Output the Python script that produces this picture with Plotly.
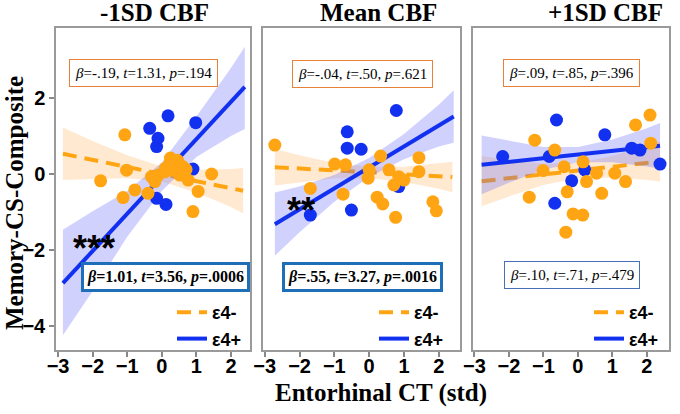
import plotly.graph_objects as go

W, H = 680, 414

panel_titles = ['-1SD CBF', 'Mean CBF', '+1SD CBF']
x_ticks = [-3, -2, -1, 0, 1, 2]
y_ticks = [-4, -2, 0, 2]

# e4+ (blue) points per panel
pos_x = [
    [0.18, -0.35, 0.98, -0.11, -0.15, 0.90, -0.15, 0.12, -1.12],
    [0.78, -0.63, -0.63, -0.23, 0.85, -0.51, -1.69],
    [-0.62, 0.78, -2.18, -0.83, 1.56, 1.80, 2.38, 0.20, -0.18, -0.67],
]
pos_y = [
    [1.53, 1.20, 1.35, 0.94, 0.72, 0.13, -0.64, -0.80, -2.88],
    [1.67, 1.11, 0.68, 0.65, -0.33, -0.95, -1.08],
    [1.42, 1.03, 0.46, 0.46, 0.68, 0.63, 0.26, 0.11, -0.18, -0.77],
]

# e4- (orange) points per panel
neg_x = [
    [-1.07, -1.02, -1.77, -0.78, -1.12, -0.40, -0.30, -0.20, 0.23, 0.47, 0.38, 0.09,
     0.62, 0.52, 0.76, 1.44, 1.05, 0.90, 0.25, 0.45, 0.60, 0.10, 0.30, 0.70, 0.35, -0.10],
    [-2.71, -0.99, -0.68, 0.33, 1.43, 0.00, -0.03, 0.57, 0.85, 1.00, 0.71, 1.43,
     -1.69, -0.75, 0.23, 0.39, 0.76, 1.83, 1.93],
    [2.09, 1.67, 2.11, -1.25, -0.67, 0.15, -1.01, -0.40, 0.54, 1.07, 1.38, 0.25,
     -0.31, 0.69, -1.41, -0.14, 0.14, -0.35],
]
neg_y = [
    [1.03, 0.10, -0.18, -0.42, -0.62, -0.51, -0.07, -0.20, 0.28, 0.32, 0.15, 0.06,
     0.06, -0.03, -0.16, 0.00, -0.46, -0.99, 0.42, 0.36, 0.20, 0.15, 0.10, 0.12, 0.28, -0.03],
    [0.76, 0.26, 0.24, 0.47, 0.43, 0.11, -0.11, 0.11, -0.07, -0.16, -0.29, 0.06,
     -0.38, -0.53, -0.61, -0.79, -1.14, -0.73, -0.97],
    [1.55, 1.29, 0.81, 0.89, 0.63, 0.32, 0.09, 0.19, 0.02, 0.02, -0.20, -0.20,
     -0.47, -0.51, -0.61, -1.05, -1.08, -1.53],
]

# fitted lines (end points) and confidence bands
pos_fit_x = [[-2.86, 2.40], [-2.71, 2.43], [-2.79, 2.38]]
pos_fit_y = [[-2.87, 2.29], [-1.32, 1.51], [0.24, 0.74]]
neg_fit_x = [[-2.86, 2.35], [-2.71, 2.39], [-2.79, 2.38]]
neg_fit_y = [[0.53, -0.44], [0.18, -0.08], [-0.19, 0.33]]

pos_band_x = [
    [-2.86, -2, -1, 0, 1, 2, 2.40],
    [-2.71, -2, -1, 0, 1, 2, 2.43],
    [-2.79, -2, -1, 0, 1, 2, 2.38],
]
pos_band_hi = [
    [-1.47, -0.98, -0.45, 0.30, 1.51, 2.79, 3.35],
    [-0.49, -0.33, -0.03, 0.42, 1.05, 1.82, 2.20],
    [1.01, 0.87, 0.71, 0.71, 0.91, 1.20, 1.34],
]
pos_band_lo = [
    [-4.24, -3.08, -1.65, -0.45, 0.45, 1.00, 1.18],
    [-2.15, -1.53, -0.73, -0.08, 0.39, 0.72, 0.82],
    [-0.53, -0.23, 0.11, 0.31, 0.31, 0.20, 0.14],
]
neg_band_x = [
    [-2.86, -2, -1, 0, 1, 2, 2.35],
    [-2.71, -2, -1, 0, 1, 2, 2.39],
    [-2.79, -2, -1, 0, 1, 2, 2.38],
]
neg_band_hi = [
    [1.22, 0.87, 0.49, 0.20, 0.11, 0.13, 0.16],
    [0.66, 0.49, 0.29, 0.19, 0.19, 0.27, 0.32],
    [0.47, 0.37, 0.27, 0.29, 0.47, 0.74, 0.86],
]
neg_band_lo = [
    [-0.16, -0.13, -0.11, -0.20, -0.49, -0.87, -1.04],
    [-0.30, -0.21, -0.11, -0.11, -0.21, -0.39, -0.48],
    [-0.85, -0.59, -0.29, -0.11, -0.09, -0.16, -0.20],
]

neg_stats = ['<i>β</i>=-.19, <i>t</i>=1.31, <i>p</i>=.194',
             '<i>β</i>=-.04, <i>t</i>=.50, <i>p</i>=.621',
             '<i>β</i>=.09, <i>t</i>=.85, <i>p</i>=.396']
pos_stats = ['<b><i>β</i>=1.01, <i>t</i>=3.56, <i>p</i>=.0006</b>',
             '<b><i>β</i>=.55, <i>t</i>=3.27, <i>p</i>=.0016</b>',
             '<i>β</i>=.10, <i>t</i>=.71, <i>p</i>=.479']
stars = ['***', '**', '']
star_x = [-1.95, -1.97]
star_y = [-1.95, -0.96]

ORANGE = '#FFA514'
BLUE = '#1230F0'
SANS = 'Liberation Sans, Arial, sans-serif'
SERIF = 'Liberation Serif, Times New Roman, serif'


def px(x):
    return x / W


def py(y):
    return 1 - y / H


x_domains = [[px(56), px(250)], [px(263), px(460)], [px(473), px(669)]]
x_ranges = [[-3.06, 2.55], [-3.05, 2.61], [-3.04, 2.64]]
y_range = [-4.63, 3.84]
y_domain = [py(350), py(28)]

title_cx = [154, 378, 605]
neg_box = [(143, 73), (362, 74), (571, 73)]
pos_box = [(165, 277), (362, 277), (572, 275)]
legend_x = [172, 374, 589]

fig = go.Figure()

for i in range(3):
    xa = 'x' if i == 0 else f'x{i + 1}'
    ya = 'y' if i == 0 else f'y{i + 1}'
    lg = 'legend' if i == 0 else f'legend{i + 1}'

    # bands
    fig.add_trace(go.Scatter(
        x=neg_band_x[i] + neg_band_x[i][::-1], y=neg_band_hi[i] + neg_band_lo[i][::-1],
        fill='toself', fillcolor='rgba(255,170,70,0.25)', line=dict(width=0),
        mode='lines', hoverinfo='skip', showlegend=False, xaxis=xa, yaxis=ya))
    fig.add_trace(go.Scatter(
        x=neg_fit_x[i], y=neg_fit_y[i], mode='lines', name='ε4-',
        line=dict(color=ORANGE, width=4, dash='14px,8px'),
        legend=lg, xaxis=xa, yaxis=ya))
    fig.add_trace(go.Scatter(
        x=pos_band_x[i] + pos_band_x[i][::-1], y=pos_band_hi[i] + pos_band_lo[i][::-1],
        fill='toself', fillcolor='rgba(90,90,250,0.28)', line=dict(width=0),
        mode='lines', hoverinfo='skip', showlegend=False, xaxis=xa, yaxis=ya))
    fig.add_trace(go.Scatter(
        x=pos_fit_x[i], y=pos_fit_y[i], mode='lines', name='ε4+',
        line=dict(color=BLUE, width=4),
        legend=lg, xaxis=xa, yaxis=ya))

    # points
    fig.add_trace(go.Scatter(
        x=pos_x[i], y=pos_y[i], mode='markers', marker=dict(color=BLUE, size=13),
        showlegend=False, xaxis=xa, yaxis=ya))
    fig.add_trace(go.Scatter(
        x=neg_x[i], y=neg_y[i], mode='markers', marker=dict(color=ORANGE, size=13),
        showlegend=False, xaxis=xa, yaxis=ya))

    axis_x = dict(domain=x_domains[i], range=x_ranges[i], tickvals=x_ticks,
                  ticks='outside', ticklen=5, tickwidth=1.5, tickcolor='#888',
                  ticklabelstandoff=-8,
                  showline=True, mirror=True, linecolor='#9a9a9a', linewidth=1.5,
                  showgrid=False, zeroline=False, automargin=False,
                  tickfont=dict(family=SANS, size=20, color='black', weight='bold'),
                  anchor=ya)
    axis_y = dict(domain=y_domain, range=y_range, tickvals=y_ticks,
                  showline=True, mirror=True, linecolor='#9a9a9a', linewidth=1.5,
                  showgrid=False, zeroline=False, anchor=xa, automargin=False,
                  tickfont=dict(family=SANS, size=20, color='black', weight='bold'))
    if i == 0:
        axis_y.update(ticks='outside', ticklen=5, tickwidth=1.5, tickcolor='#888')
    else:
        axis_y.update(showticklabels=False, ticks='')
    fig.update_layout({('xaxis' if i == 0 else f'xaxis{i + 1}'): axis_x,
                       ('yaxis' if i == 0 else f'yaxis{i + 1}'): axis_y})

    fig.update_layout({lg: dict(x=px(legend_x[i]), y=py(294), xanchor='left', yanchor='top',
                                bgcolor='rgba(0,0,0,0)', tracegroupgap=0, itemwidth=30,
                                font=dict(family=SANS, size=18, color='black', weight='bold'))})

    # panel title
    fig.add_annotation(x=px(title_cx[i]), y=py(12), xref='paper', yref='paper',
                       xanchor='center', yanchor='middle',
                       text=panel_titles[i], showarrow=False,
                       font=dict(family=SERIF, size=25, color='black', weight='bold'))
    # stats boxes
    fig.add_annotation(x=px(neg_box[i][0]), y=py(neg_box[i][1]), xref='paper', yref='paper',
                       xanchor='center', yanchor='middle',
                       text=neg_stats[i], showarrow=False, bgcolor='white',
                       bordercolor='#E8803A', borderwidth=1, borderpad=5,
                       font=dict(family=SERIF, size=15, color='black'))
    thick = i < 2
    fig.add_annotation(x=px(pos_box[i][0]), y=py(pos_box[i][1]), xref='paper', yref='paper',
                       xanchor='center', yanchor='middle',
                       text=pos_stats[i], showarrow=False, bgcolor='white',
                       bordercolor='#1F6FB8' if thick else '#4A6FB5',
                       borderwidth=3 if thick else 1, borderpad=3 if thick else 5,
                       font=dict(family=SERIF, size=16 if thick else 15, color='black'))
    if stars[i]:
        fig.add_annotation(x=star_x[i], y=star_y[i], xref=xa, yref=ya,
                           xanchor='center', yanchor='middle',
                           text=stars[i], showarrow=False,
                           font=dict(family=SANS, size=36, color='black', weight='bold'))

fig.add_annotation(x=px(381), y=py(393), xref='paper', yref='paper',
                   xanchor='center', yanchor='middle',
                   text='Entorhinal CT (std)', showarrow=False,
                   font=dict(family=SERIF, size=25, color='black', weight='bold'))
fig.add_annotation(x=px(15), y=py(203), xref='paper', yref='paper',
                   xanchor='center', yanchor='middle',
                   text='Memory-CS-Composite', showarrow=False, textangle=-90,
                   font=dict(family=SERIF, size=25, color='black', weight='bold'))

fig.update_layout(width=W, height=H, margin=dict(l=0, r=0, t=0, b=0),
                  paper_bgcolor='white', plot_bgcolor='white')

# drop the default page margin so the figure starts at the window corner
fig.write_html("out.html", config={'displayModeBar': False},
               post_script="document.body.style.margin = '0px';")
